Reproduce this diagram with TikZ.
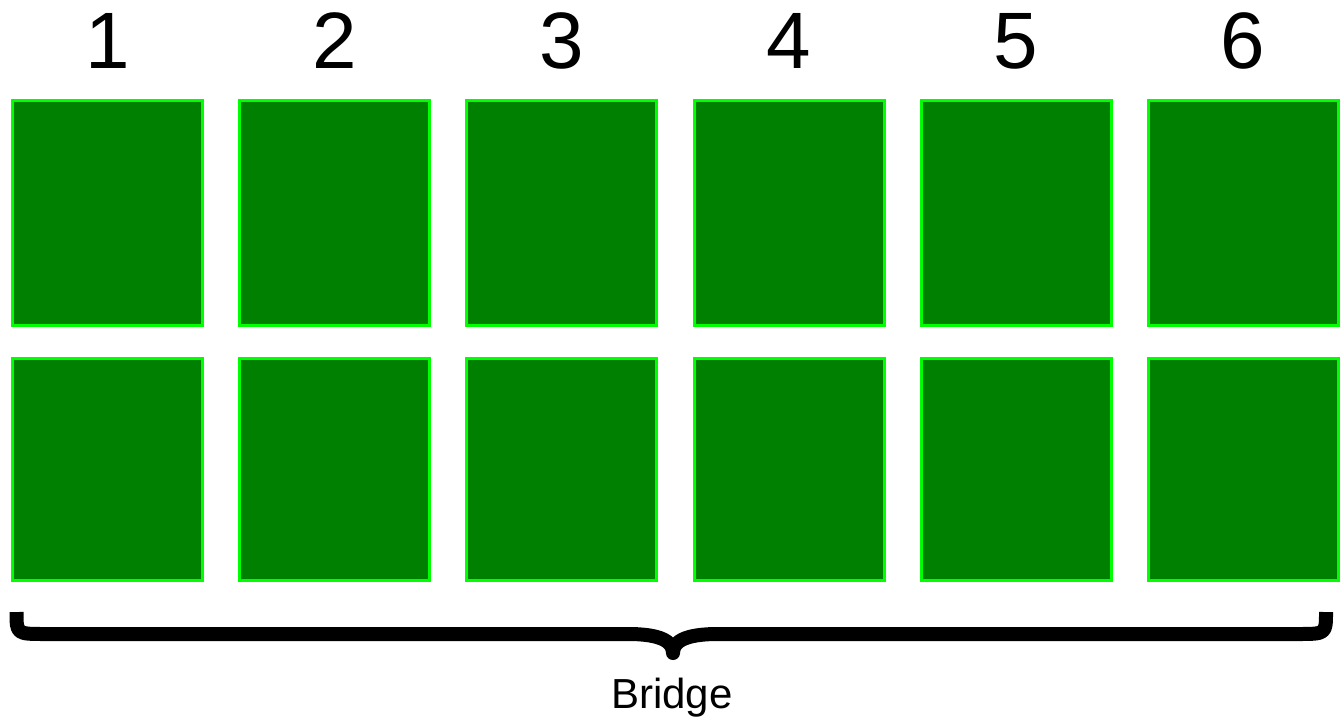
\documentclass[tikz,border=0pt]{standalone}
\usepackage{fontspec}
\setmainfont{Liberation Sans}
\definecolor{boxfill}{HTML}{008000}
\definecolor{boxline}{HTML}{00FF00}
\begin{document}
\begin{tikzpicture}[x=1pt,y=-1pt,
  cell/.style={draw=boxline,fill=boxfill,line width=3pt,minimum width=190pt,inner sep=0pt,anchor=north west},
  numlabel/.style={font=\fontsize{80}{80}\selectfont,anchor=base,inner sep=0pt},
  bracestyle/.style={line width=14pt,line join=round,line cap=butt}]
\useasboundingbox (0,0) rectangle (1343,719);
\fill[white] (0,0) rectangle (1343,719);
\foreach \i/\x in {1/11,2/238,3/465,4/692.5,5/919.5,6/1146.5}{
  \node[cell,minimum height=224pt] (t\i) at (\x,99.5) {};
  \node[cell,minimum height=222pt] (b\i) at (\x,356.5) {};
  \node[numlabel] (n\i) at ([yshift=31pt]t\i.north) {\i};
}
\coordinate (bl) at (16.5,612);
\coordinate (br) at (1326,612);
\coordinate (tip) at (673,653);
\draw[bracestyle] (bl) .. controls (16.5,634) .. (45,634) -- (628,634)
  .. controls (662,634) and (673,642) .. (tip)
  .. controls (673,642) and (684,634) .. (718,634) -- (1298,634)
  .. controls (1326,634) .. (br);
\node[font=\fontsize{42}{42}\selectfont,anchor=base,inner sep=0pt] (bridge) at (672,708) {Bridge};
\end{tikzpicture}
\end{document}
